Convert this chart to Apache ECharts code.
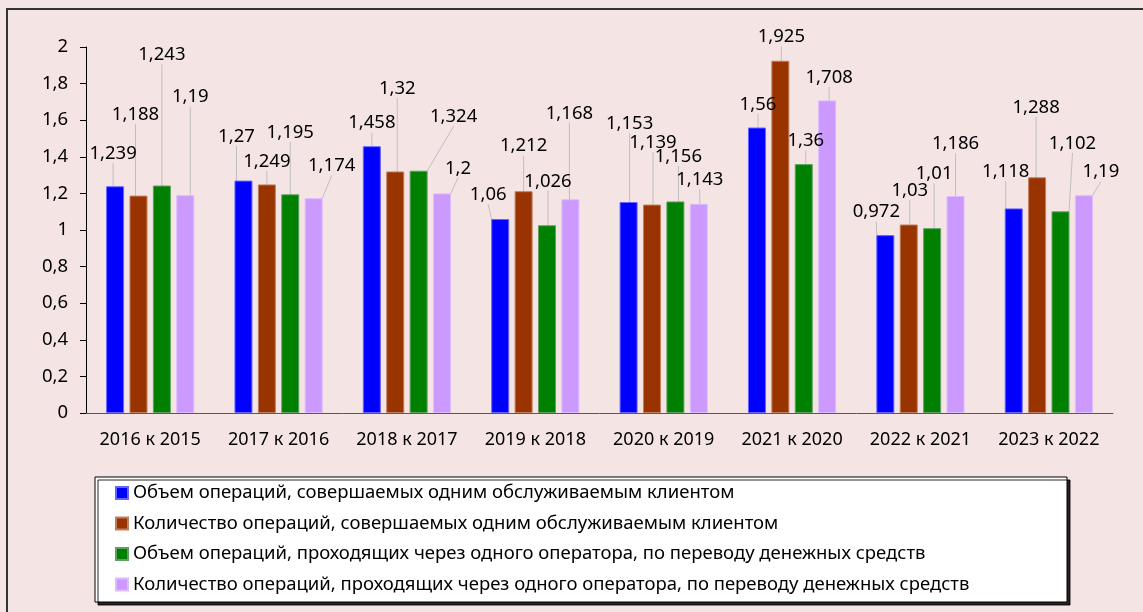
<!DOCTYPE html>
<html>
<head>
<meta charset="utf-8">
<script src="https://cdn.jsdelivr.net/npm/echarts@6/dist/echarts.min.js"></script>
<style>
  html, body { margin: 0; padding: 0; background: #f5e4e4; }
  #chart { width: 1143px; height: 612px; }
</style>
</head>
<body>
<div id="chart"></div>
<script>
var categories = ['2016 к 2015', '2017 к 2016', '2018 к 2017', '2019 к 2018',
                  '2020 к 2019', '2021 к 2020', '2022 к 2021', '2023 к 2022'];

var seriesNames = [
  'Объем операций, совершаемых одним обслуживаемым клиентом',
  'Количество операций, совершаемых одним обслуживаемым клиентом',
  'Объем операций, проходящих через одного оператора, по переводу денежных средств',
  'Количество операций, проходящих через одного оператора, по переводу денежных средств'
];

var volumePerClient = [1.239, 1.27, 1.458, 1.06, 1.153, 1.56, 0.972, 1.118];
var countPerClient = [1.188, 1.249, 1.32, 1.212, 1.139, 1.925, 1.03, 1.288];
var volumePerOperator = [1.243, 1.195, 1.324, 1.026, 1.156, 1.36, 1.01, 1.102];
var countPerOperator = [1.19, 1.174, 1.2, 1.168, 1.143, 1.708, 1.186, 1.19];

var colors = ['#0000ff', '#993300', '#008000', '#cc99ff'];
var borders = ['#6666ff', '#c08060', '#60a060', '#ddbbff'];

// сдвиг подписей относительно верха столбца (как в исходнике, с выносками)
var labelShift = [
  [[-2,-33],[-7,-44],[0,-23],[-12,-24],[1,-78],[1,-23],[-9,-23],[-8,-37]],
  [[-3,-81],[0,-23],[2,-83],[0,-45],[1,-62],[1,-24],[1,-34],[-1,-70]],
  [[0,-131],[0,-62],[35,-54],[1,-44],[3,-45],[2,-23],[2,-54],[12,-68]],
  [[5,-98],[18,-32],[16,-25],[-1,-86],[1,-24],[2,-23],[0,-52],[17,-23]]
];

var font = '"Noto Sans", "DejaVu Sans", sans-serif';
var fs = 18.5;
function comma(v) {
  return String(+(+v).toFixed(3)).replace('.', ',');
}

var chart = echarts.init(document.getElementById('chart'));

var allData = [volumePerClient, countPerClient, volumePerOperator, countPerOperator];
var series = allData.map(function (d, i) {
  return {
    name: seriesNames[i],
    type: 'bar',
    data: d,
    barWidth: 18,
    barGap: '30%',
    itemStyle: { color: colors[i], borderColor: borders[i], borderWidth: 1 },
    label: {
      show: true,
      position: 'top',
      color: '#000',
      fontFamily: font,
      fontSize: fs,
      formatter: function (p) { return comma(p.value); }
    },
    labelLine: {
      show: true,
      lineStyle: { color: '#bfbfbf', width: 1 }
    },
    labelLayout: function (p) {
      var s = labelShift[p.seriesIndex][p.dataIndex];
      return {
        x: p.rect.x + p.rect.width / 2 + s[0],
        y: p.rect.y + s[1],
        align: 'center',
        verticalAlign: 'middle'
      };
    }
  };
});

chart.setOption({
  backgroundColor: '#f5e4e4',
  animation: false,
  color: colors,
  grid: { left: 86, right: 30, top: 47, bottom: 199 },
  graphic: [
    {
      type: 'rect', z: -10, silent: true,
      shape: { x: 7, y: 9, width: 1200, height: 700 },
      style: { fill: 'none', stroke: '#333', lineWidth: 2 }
    },
    {
      type: 'rect', z: -5, silent: true,
      shape: { x: 95, y: 477, width: 972, height: 125 },
      style: {
        fill: '#fff', stroke: '#000', lineWidth: 1,
        shadowColor: 'rgba(0,0,0,0.85)', shadowOffsetX: 3, shadowOffsetY: 3, shadowBlur: 0
      }
    }
  ],
  legend: {
    orient: 'vertical',
    left: 110,
    top: 478,
    itemWidth: 12,
    itemHeight: 12,
    itemGap: 10.5,
    icon: 'rect',
    textStyle: { fontFamily: font, fontSize: fs, color: '#000', lineHeight: 20 },
    data: seriesNames
  },
  xAxis: {
    type: 'category',
    data: categories,
    axisLine: { lineStyle: { color: '#595959', width: 1 } },
    axisTick: { show: false },
    axisLabel: { interval: 0, color: '#000', fontFamily: font, fontSize: 18, margin: 18 }
  },
  yAxis: {
    type: 'value',
    min: 0,
    max: 2,
    interval: 0.2,
    axisLine: { show: true, lineStyle: { color: '#000', width: 1 } },
    axisTick: { show: true, length: 6, lineStyle: { color: '#000' } },
    splitLine: { show: false },
    axisLabel: {
      color: '#000', fontFamily: font, fontSize: fs, margin: 18,
      formatter: function (v) { return String(+v.toFixed(1)).replace('.', ','); }
    }
  },
  series: series
});
</script>
</body>
</html>
